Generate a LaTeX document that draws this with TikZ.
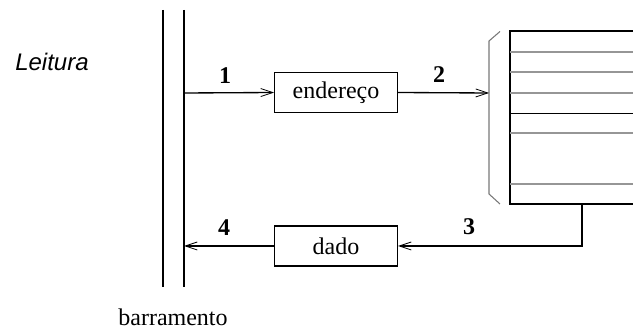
\documentclass[tikz,border=0pt]{standalone}
\usepackage{fontspec}
\setmainfont{Liberation Serif}
\newfontfamily\leiturafont{Liberation Sans}
\usetikzlibrary{arrows.meta}

\tikzset{every picture/.style={line width=0.75pt}}

\begin{document}
\begin{tikzpicture}[x=0.75pt,y=0.75pt,yscale=-1,xscale=1,
	caixa/.style={draw, line width=1pt, minimum width=92pt, minimum height=30pt, inner sep=0pt, font=\fontsize{18}{20}\selectfont},
	seta/.style={line width=1pt, -{Straight Barb[length=9pt,width=6pt,line width=0.6pt]}},
	passo/.style={font=\fontsize{18}{20}\selectfont\bfseries},
	linhacinza/.style={draw={rgb, 255:red, 150; green, 150; blue, 150 }, line width=1.1pt}]
	\path[use as bounding box] (0,0) rectangle (633,331);

	%Shape: Bus lines
	\draw [line width=1pt] (163,10) -- (163,287) ;
	\draw [line width=1pt] (184,10) -- (184,287) ;
	\coordinate (bus1) at (184,93) ;
	\coordinate (bus4) at (184,246) ;

	%Shape: Rectangle endereco
	\node [caixa] (endereco) at (336,92.5) {endereço};
	%Shape: Rectangle dado
	\node [caixa] (dado) at (336,246) {dado};

	%Shape: Memory block
	\draw [line width=1pt] (633,31) -- (510,31) -- (510,204) -- (633,204) ;
	\draw [linhacinza] (510,52) -- (633,52) ;
	\draw [linhacinza] (510,72) -- (633,72) ;
	\draw [linhacinza] (510,93) -- (633,93) ;
	\draw [line width=1pt] (510,113.5) -- (633,113.5) ;
	\draw [linhacinza] (510,133) -- (633,133) ;
	\draw [linhacinza] (510,184) -- (633,184) ;
	%Shape: Bracket
	\draw [draw={rgb, 255:red, 120; green, 120; blue, 120 }, line width=0.8pt] (500,31.5) -- (489,41) -- (489,194) -- (500,204) ;
	\coordinate (chave) at (489,93) ;
	\coordinate (saida) at (582,204) ;

	%Straight Lines
	\draw [seta] (bus1) -- (endereco.west) ;
	\draw [seta] (endereco.east) -- (chave) ;
	\draw [seta] (saida) |- (dado.east) ;
	\draw [seta] (dado.west) -- (bus4) ;

	% Text Node
	\node [passo] (n1) at (225,76) {1};
	% Text Node
	\node [passo] (n2) at (439,75) {2};
	% Text Node
	\node [passo] (n3) at (469,227) {3};
	% Text Node
	\node [passo] (n4) at (224,228) {4};
	% Text Node
	\node [font=\fontsize{18}{20}\selectfont\leiturafont\itshape] (leitura) at (52,62) {Leitura};
	% Text Node
	\node [font=\fontsize{18}{20}\selectfont, inner sep=0pt, anchor=base] (barramento) at (173,326) {barramento};

\end{tikzpicture}
\end{document}
